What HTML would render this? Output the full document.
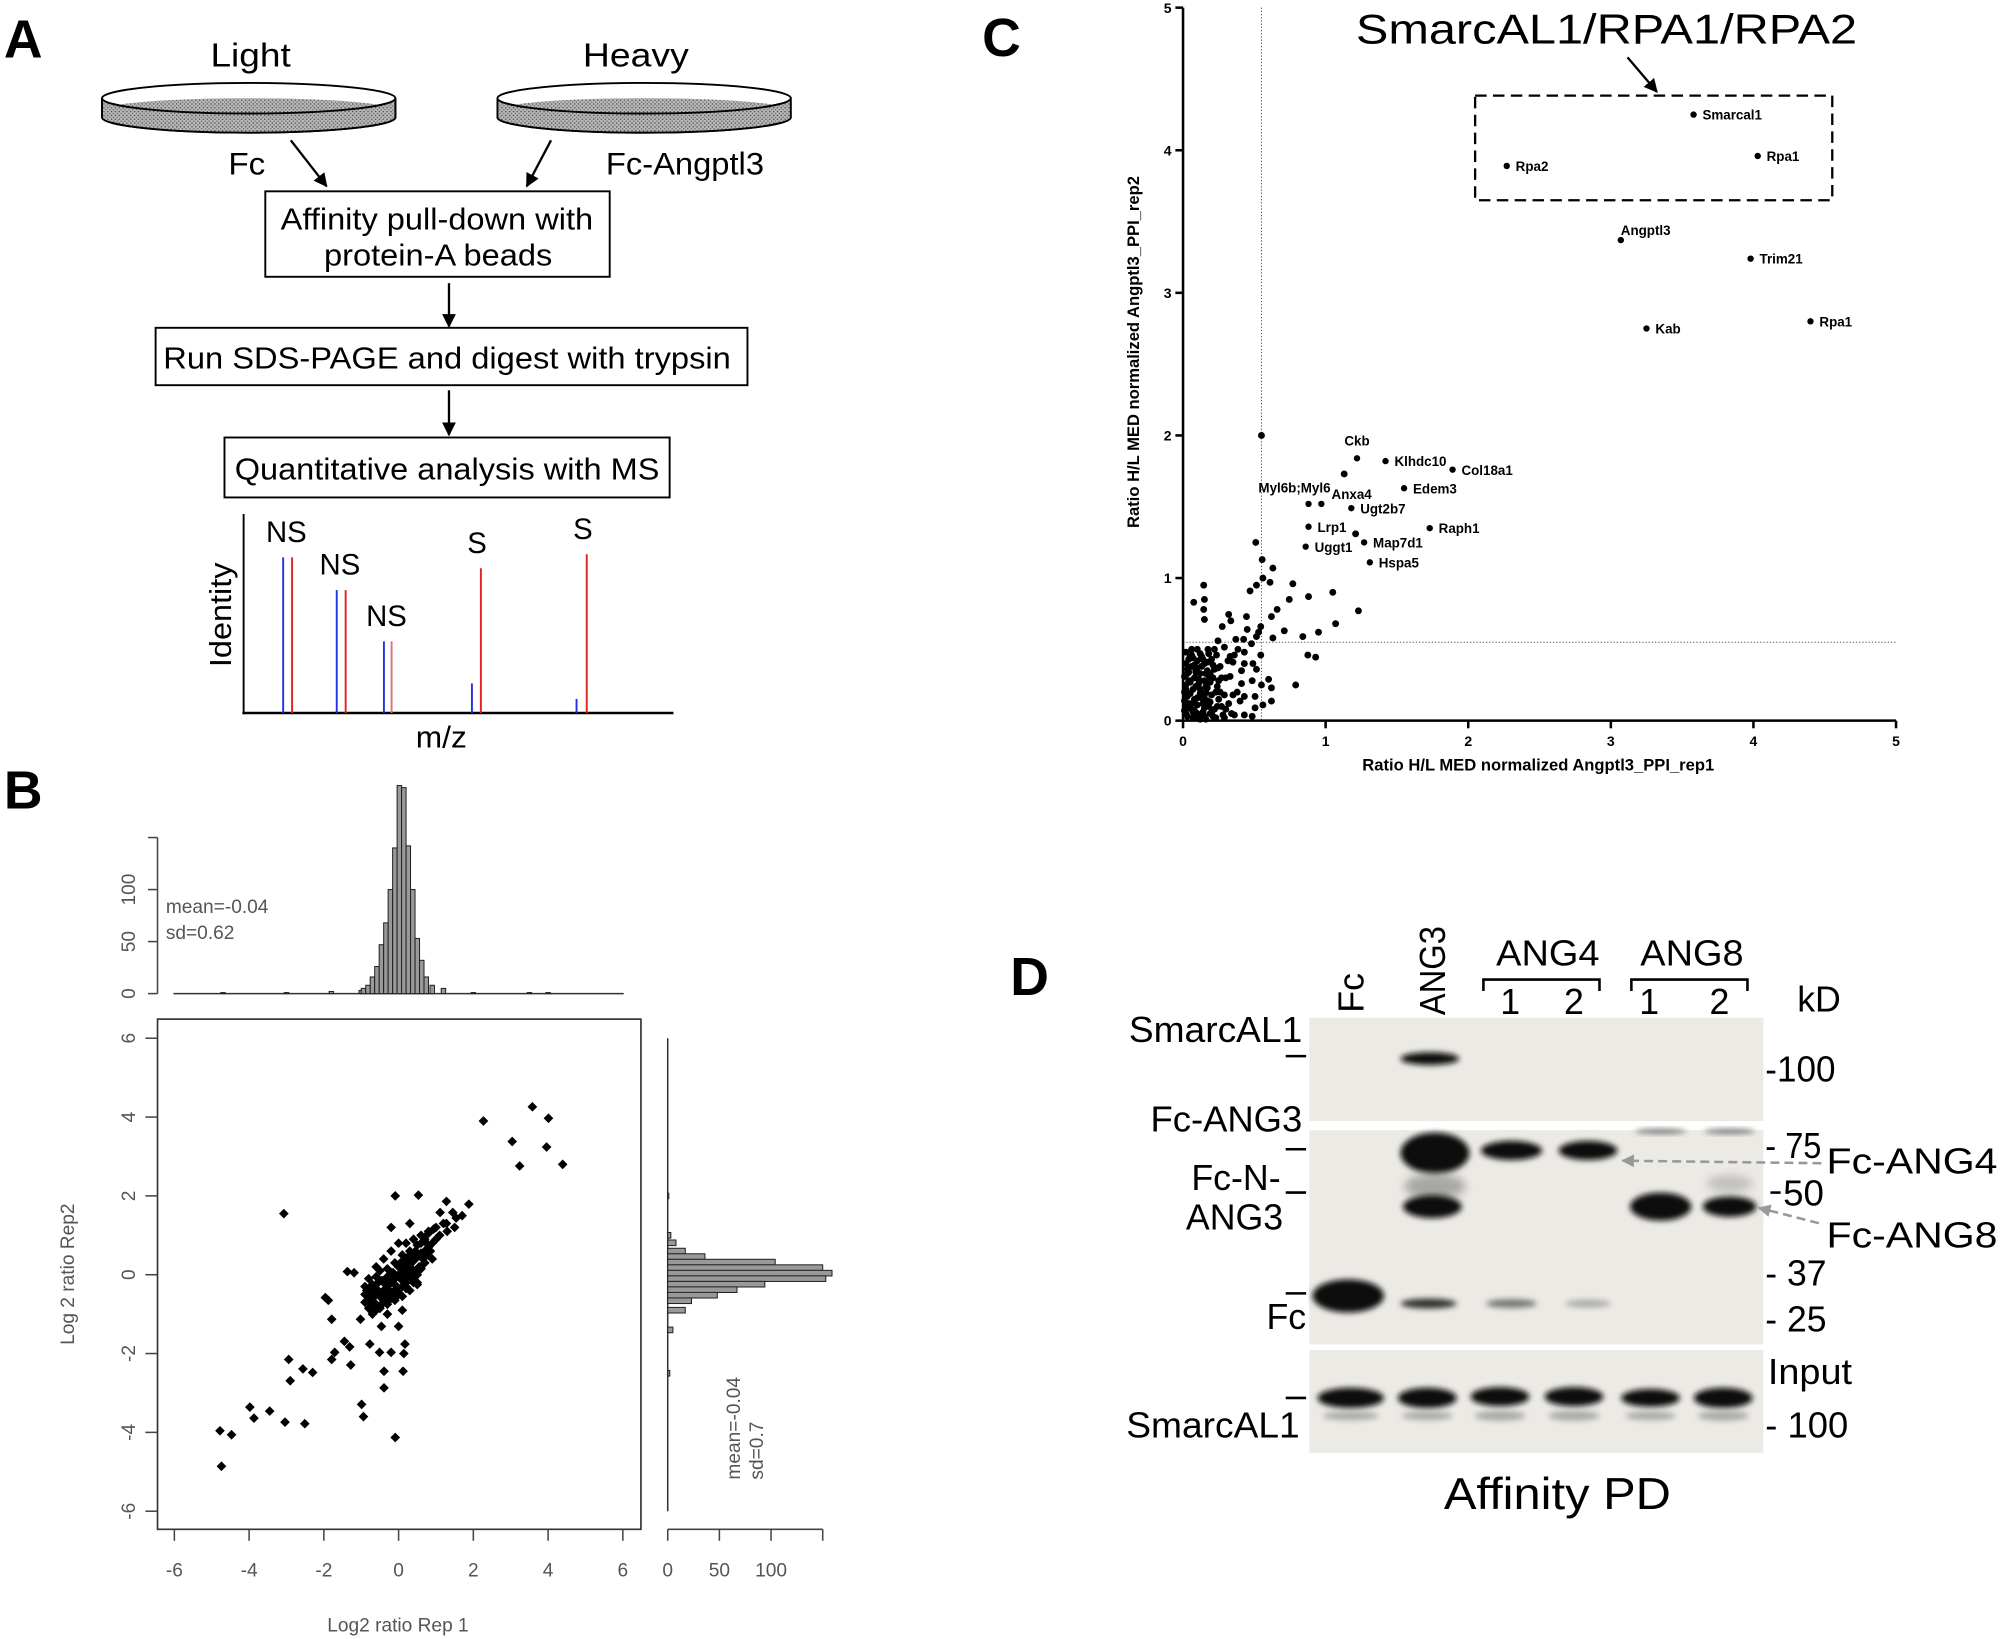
<!DOCTYPE html>
<html><head><meta charset="utf-8"><style>
html,body{margin:0;padding:0;background:#fff;}
svg{display:block;}
text{font-family:"Liberation Sans",Arial,sans-serif;}
</style></head><body>
<svg id="fig" xmlns="http://www.w3.org/2000/svg" width="2000" height="1639" viewBox="0 0 1568 1285" preserveAspectRatio="none">
<defs>
<filter id="blur" x="-20%" y="-60%" width="140%" height="220%"><feGaussianBlur stdDeviation="2.2"/></filter>
<filter id="blur2" x="-20%" y="-60%" width="140%" height="220%"><feGaussianBlur stdDeviation="3.5"/></filter>
<pattern id="stip" width="3" height="3" patternUnits="userSpaceOnUse"><rect width="3" height="3" fill="#b8b8b8"/><rect width="1" height="1" fill="#444"/><rect x="1.5" y="1.5" width="1" height="1" fill="#666"/></pattern>
<marker id="ah" viewBox="0 0 10 10" refX="9" refY="5" markerWidth="6" markerHeight="6" orient="auto"><path d="M0,0 L10,5 L0,10 z" fill="#000"/></marker>
<marker id="ahg" viewBox="0 0 10 10" refX="9" refY="5" markerWidth="5" markerHeight="5" orient="auto"><path d="M0,0 L10,5 L0,10 z" fill="#999"/></marker>
</defs>

<!-- PANEL A -->
<g>
<text x="3" y="45" font-size="42" font-weight="bold">A</text>
<text x="165" y="52" font-size="26" textLength="63" lengthAdjust="spacingAndGlyphs">Light</text>
<text x="457" y="52" font-size="26" textLength="83" lengthAdjust="spacingAndGlyphs">Heavy</text>
<g>
<ellipse cx="195" cy="92" rx="115" ry="12" fill="url(#stip)" stroke="#000" stroke-width="1.5"/>
<rect x="80" y="77" width="230" height="15" fill="#fff"/>
<line x1="80" y1="77" x2="80" y2="92" stroke="#000" stroke-width="1.5"/><line x1="310" y1="77" x2="310" y2="92" stroke="#000" stroke-width="1.5"/>
<ellipse cx="195" cy="77" rx="115" ry="12" fill="#fff" stroke="#000" stroke-width="1.5"/>
<path d="M82,86 A113,10 0 0 0 308,86 A113,9 0 0 0 82,86 Z" fill="url(#stip)"/>
<path d="M80,77 V92 A115,12 0 0 0 310,92 V77 A115,12 0 0 1 80,77 Z" fill="url(#stip)" stroke="#000" stroke-width="1.5"/>
</g>
<g>
<ellipse cx="505" cy="92" rx="115" ry="12" fill="url(#stip)" stroke="#000" stroke-width="1.5"/>
<rect x="390" y="77" width="230" height="15" fill="#fff"/>
<ellipse cx="505" cy="77" rx="115" ry="12" fill="#fff" stroke="#000" stroke-width="1.5"/>
<path d="M392,86 A113,10 0 0 0 618,86 A113,9 0 0 0 392,86 Z" fill="url(#stip)"/>
<path d="M390,77 V92 A115,12 0 0 0 620,92 V77 A115,12 0 0 1 390,77 Z" fill="url(#stip)" stroke="#000" stroke-width="1.5"/>
</g>
<text x="179" y="137" font-size="25" textLength="29" lengthAdjust="spacingAndGlyphs">Fc</text>
<text x="475" y="137" font-size="25" textLength="124" lengthAdjust="spacingAndGlyphs">Fc-Angptl3</text>
<line x1="228" y1="110" x2="256" y2="146" stroke="#000" stroke-width="1.8" marker-end="url(#ah)"/>
<line x1="432" y1="110" x2="413" y2="146" stroke="#000" stroke-width="1.8" marker-end="url(#ah)"/>
<rect x="208" y="150" width="270" height="67" fill="none" stroke="#000" stroke-width="1.5"/>
<text x="220" y="180" font-size="24" textLength="245" lengthAdjust="spacingAndGlyphs">Affinity pull-down with</text>
<text x="254" y="208" font-size="24" textLength="179" lengthAdjust="spacingAndGlyphs">protein-A beads</text>
<line x1="352" y1="222" x2="352" y2="256" stroke="#000" stroke-width="1.8" marker-end="url(#ah)"/>
<rect x="122" y="257" width="464" height="45" fill="none" stroke="#000" stroke-width="1.5"/>
<text x="128" y="289" font-size="24" textLength="445" lengthAdjust="spacingAndGlyphs">Run SDS-PAGE and digest with trypsin</text>
<line x1="352" y1="306" x2="352" y2="341" stroke="#000" stroke-width="1.8" marker-end="url(#ah)"/>
<rect x="176" y="343" width="349" height="47" fill="none" stroke="#000" stroke-width="1.5"/>
<text x="184" y="376" font-size="24" textLength="333" lengthAdjust="spacingAndGlyphs">Quantitative analysis with MS</text>
<g id="spec">
<line x1="191" y1="403" x2="191" y2="560" stroke="#000" stroke-width="1.5"/>
<line x1="190" y1="559" x2="528" y2="559" stroke="#000" stroke-width="2"/>
<text transform="translate(181,523) rotate(-90)" font-size="24" textLength="82" lengthAdjust="spacingAndGlyphs">Identity</text>
<text x="326" y="586" font-size="24" textLength="40" lengthAdjust="spacingAndGlyphs">m/z</text>
</g>
</g>

<!-- PANEL B -->
<g>
<text x="3" y="634" font-size="42" font-weight="bold">B</text>
<g id="bplot"></g>
</g>

<!-- PANEL C -->
<g>
<text x="770" y="44" font-size="42" font-weight="bold">C</text>
<text x="1063" y="34" font-size="33" textLength="393" lengthAdjust="spacingAndGlyphs">SmarcAL1/RPA1/RPA2</text>
<line x1="1276" y1="45" x2="1299" y2="72" stroke="#000" stroke-width="1.8" marker-end="url(#ah)"/>
<rect x="1156.5" y="75" width="280" height="82" fill="none" stroke="#000" stroke-width="1.8" stroke-dasharray="9,5"/>
<g id="cplot"></g>
</g>

<!-- PANEL D -->
<g>
<text x="792" y="780" font-size="42" font-weight="bold">D</text>
<text transform="translate(1069,794) rotate(-90)" font-size="28">Fc</text>
<text transform="translate(1133,796) rotate(-90)" font-size="28" textLength="70" lengthAdjust="spacingAndGlyphs">ANG3</text>
<text x="1173" y="757" font-size="28" textLength="81" lengthAdjust="spacingAndGlyphs">ANG4</text>
<text x="1286" y="757" font-size="28" textLength="81" lengthAdjust="spacingAndGlyphs">ANG8</text>
<path d="M1163,777 V768 H1254 V777" fill="none" stroke="#000" stroke-width="2"/>
<path d="M1279,777 V768 H1370 V777" fill="none" stroke="#000" stroke-width="2"/>
<text x="1184" y="795" font-size="28" text-anchor="middle">1</text>
<text x="1234" y="795" font-size="28" text-anchor="middle">2</text>
<text x="1293" y="795" font-size="28" text-anchor="middle">1</text>
<text x="1348" y="795" font-size="28" text-anchor="middle">2</text>
<text x="1409" y="793" font-size="28">kD</text>
<rect x="1026.5" y="798" width="356" height="81" fill="#eceae5"/>
<rect x="1026.5" y="886" width="356" height="168" fill="#eceae5"/>
<rect x="1026.5" y="1058.5" width="356" height="80.5" fill="#eceae5"/>
<g>
<ellipse cx="1121" cy="830" rx="23" ry="5" fill="#111" filter="url(#blur)"/>
<ellipse cx="1125" cy="904" rx="27" ry="16" fill="#0a0a0a" filter="url(#blur)"/>
<ellipse cx="1125" cy="930" rx="24" ry="10" fill="#666" opacity="0.5" filter="url(#blur2)"/>
<ellipse cx="1123" cy="946" rx="23" ry="9" fill="#111" filter="url(#blur)"/>
<ellipse cx="1120" cy="1022" rx="22" ry="4" fill="#333" filter="url(#blur)"/>
<ellipse cx="1057" cy="1016" rx="28" ry="13" fill="#0a0a0a" filter="url(#blur)"/>
<ellipse cx="1185" cy="902" rx="24" ry="7.5" fill="#111" filter="url(#blur)"/>
<ellipse cx="1245" cy="902" rx="23" ry="7.5" fill="#111" filter="url(#blur)"/>
<ellipse cx="1185" cy="1022" rx="20" ry="3.5" fill="#777" filter="url(#blur)"/>
<ellipse cx="1245" cy="1022" rx="18" ry="3" fill="#aaa" filter="url(#blur)"/>
<ellipse cx="1302" cy="946" rx="24" ry="11" fill="#0a0a0a" filter="url(#blur)"/>
<ellipse cx="1356" cy="946" rx="21" ry="8" fill="#111" filter="url(#blur)"/>
<ellipse cx="1356" cy="928" rx="18" ry="7" fill="#999" opacity="0.5" filter="url(#blur2)"/>
<ellipse cx="1302" cy="887" rx="20" ry="2" fill="#777" filter="url(#blur)"/>
<ellipse cx="1356" cy="887" rx="20" ry="2" fill="#777" filter="url(#blur)"/>
<ellipse cx="1059" cy="1096" rx="26" ry="8" fill="#111" filter="url(#blur)"/>
<ellipse cx="1119" cy="1096" rx="23" ry="8" fill="#111" filter="url(#blur)"/>
<ellipse cx="1176" cy="1095" rx="23" ry="7.5" fill="#111" filter="url(#blur)"/>
<ellipse cx="1234" cy="1095" rx="23" ry="7.5" fill="#111" filter="url(#blur)"/>
<ellipse cx="1294" cy="1096" rx="23" ry="7" fill="#111" filter="url(#blur)"/>
<ellipse cx="1351" cy="1096" rx="23" ry="8" fill="#111" filter="url(#blur)"/>
<g fill="#aaa" filter="url(#blur)"><ellipse cx="1059" cy="1110" rx="22" ry="3.5"/><ellipse cx="1119" cy="1110" rx="20" ry="3.5"/><ellipse cx="1176" cy="1110" rx="20" ry="4"/><ellipse cx="1234" cy="1110" rx="20" ry="4"/><ellipse cx="1294" cy="1110" rx="20" ry="3.5"/><ellipse cx="1351" cy="1110" rx="20" ry="4"/></g>
</g>
<g font-size="28" text-anchor="end">
<text x="1021" y="817" textLength="136" lengthAdjust="spacingAndGlyphs">SmarcAL1</text>
<text x="1021" y="887" textLength="119" lengthAdjust="spacingAndGlyphs">Fc-ANG3</text>
<text x="1004" y="933">Fc-N-</text>
<text x="1006" y="964">ANG3</text>
<text x="1024" y="1042">Fc</text>
<text x="1019" y="1127" textLength="136" lengthAdjust="spacingAndGlyphs">SmarcAL1</text>
</g>
<g stroke="#000" stroke-width="2">
<line x1="1008" y1="828" x2="1024" y2="828"/><line x1="1008" y1="901" x2="1024" y2="901"/><line x1="1008" y1="935" x2="1024" y2="935"/><line x1="1008" y1="1014" x2="1024" y2="1014"/><line x1="1008" y1="1096" x2="1024" y2="1096"/>
</g>
<g font-size="28">
<text x="1384" y="848" textLength="55" lengthAdjust="spacingAndGlyphs">-100</text>
<text x="1384" y="908" textLength="44" lengthAdjust="spacingAndGlyphs">- 75</text>
<text x="1398" y="945" textLength="32" lengthAdjust="spacingAndGlyphs">50</text>
<text x="1384" y="1008" textLength="48" lengthAdjust="spacingAndGlyphs">- 37</text>
<text x="1384" y="1044" textLength="48" lengthAdjust="spacingAndGlyphs">- 25</text>
<text x="1386" y="1085" textLength="66" lengthAdjust="spacingAndGlyphs">Input</text>
<text x="1384" y="1127" textLength="65" lengthAdjust="spacingAndGlyphs">- 100</text>
<text x="1432" y="920" textLength="134" lengthAdjust="spacingAndGlyphs">Fc-ANG4</text>
<text x="1432" y="978" textLength="134" lengthAdjust="spacingAndGlyphs">Fc-ANG8</text>
</g>
<line x1="1388" y1="935" x2="1396" y2="935" stroke="#000" stroke-width="2"/>
<line x1="1428" y1="912" x2="1272" y2="910" stroke="#999" stroke-width="2" stroke-dasharray="7,4" marker-end="url(#ahg)"/>
<line x1="1426" y1="959" x2="1379" y2="947" stroke="#999" stroke-width="2" stroke-dasharray="7,4" marker-end="url(#ahg)"/>
<text x="1132" y="1183" font-size="35" textLength="178" lengthAdjust="spacingAndGlyphs">Affinity PD</text>
</g>
</svg>
<script>
// ---------- Panel A spectrum data ----------
const specMz = [222, 229, 264, 271, 301, 307, 370, 377, 452, 460];
const specIntensity = [100, 100, 79, 79, 46, 46, 19, 93, 9, 102];
const specColor = ['#2233dd','#dd2222','#2233dd','#dd2222','#2233dd','#e07070','#2233dd','#dd2222','#2233dd','#dd2222'];
const specPeakLabels = ['NS','NS','NS','S','S'];
const specPeakLabelIdx = [0, 2, 4, 7, 9];

// ---------- Panel B data ----------
const bHistBins = [-4.7,-3.0,-1.8,-1.0,-0.94,-0.82,-0.70,-0.58,-0.46,-0.34,-0.22,-0.10,0.02,0.14,0.26,0.38,0.50,0.62,0.74,0.9,1.2,2.0,3.5,4.0];
const bHistCounts = [1,1,2,3,5,8,16,26,47,68,100,140,200,198,142,100,53,32,16,8,5,1,1,1];
const bRightBins = [2.0,1.0,0.81,0.6,0.46,0.32,0.18,0.04,-0.10,-0.24,-0.38,-0.52,-0.66,-0.9,-1.4,-2.5];
const bRightCounts = [1,3,8,17,36,104,150,159,153,94,67,48,23,17,5,2];
const bX = [2.27,3.58,4.01,3.04,3.96,3.24,4.39,-3.07,-0.09,0.53,1.88,1.28,1.11,1.54,1.28,0.94,1.45,-1.37,-1.19,-1.96,-1.88,-1.79,-1.02,-1.45,-1.31,-1.71,-1.79,-1.28,-0.77,-0.51,-0.20,0.17,0.14,0.12,-0.39,-0.39,-0.46,0.0,-0.99,-0.94,-0.09,-2.94,-2.9,-2.56,-2.3,-3.98,-3.87,-3.45,-3.04,-2.51,-4.78,-4.47,-4.74,
 -0.8,-0.7,-0.6,-0.5,-0.4,-0.3,-0.2,-0.1,0.0,0.1,0.2,0.3,0.4,0.5,0.6,0.7,0.8,0.9,1.0,1.1,
 -0.85,-0.75,-0.65,-0.55,-0.45,-0.35,-0.25,-0.15,-0.05,0.05,0.15,0.25,0.35,0.45,0.55,0.65,0.75,0.85,
 -0.7,-0.6,-0.5,-0.4,-0.3,-0.2,-0.1,0.0,0.1,0.2,0.3,0.4,0.5,0.6,
 -0.6,-0.4,-0.2,0.0,0.2,0.4,0.6,0.8,1.0,1.2,-0.3,0.1,0.5,0.9,1.3,1.5,1.7,-0.2,0.3,0.7,
 -0.9,-0.8,-0.7,-0.6,-0.5,-0.4,-0.3,-0.2,-0.1,0.0,0.1,0.2,0.3,0.4,0.5,0.6,0.7,0.8,
 -0.9,-0.8,-0.7,-0.6,-0.5,-0.4,-0.3,-0.2,-0.1,0.0,0.1,0.2,0.3,0.4,0.5,0.6,0.7,
 -0.8,-0.7,-0.6,-0.5,-0.4,-0.3,-0.2,-0.1,0.0,0.1,0.2,0.3,0.4,0.5,
 -0.9,-0.75,-0.6,-0.45,-0.3,-0.15,0.0,0.15,0.3,-0.5,-0.35,-0.2,-0.05,0.1,0.25,0.4];
const bY = [3.9,4.26,3.97,3.38,3.24,2.76,2.8,1.55,2.0,2.02,1.79,1.86,1.58,1.44,1.3,1.16,1.58,0.08,0.05,-0.58,-0.65,-1.13,-1.13,-1.69,-1.83,-1.97,-2.15,-2.29,-1.76,-1.97,-1.97,-1.76,-2.0,-2.45,-2.45,-2.87,-1.31,-1.31,-3.29,-3.6,-4.13,-2.15,-2.69,-2.39,-2.48,-3.36,-3.64,-3.46,-3.74,-3.78,-3.96,-4.06,-4.86,
 -0.7,-0.6,-0.5,-0.45,-0.4,-0.3,-0.2,-0.1,0.0,0.1,0.2,0.25,0.35,0.45,0.55,0.6,0.7,0.8,0.9,1.0,
 -0.4,-0.3,-0.8,-0.2,-0.6,-0.1,-0.5,0.05,-0.3,0.3,-0.1,0.45,0.1,0.6,0.2,0.4,0.5,0.6,
 -1.0,-0.9,-0.8,-0.7,-0.6,-0.5,-0.4,-0.5,-0.3,-0.2,-0.05,0.1,0.0,0.2,
 0.2,0.4,0.6,0.8,0.8,0.9,1.0,1.1,1.2,1.3,-1.0,-0.9,-0.2,0.4,1.1,1.2,1.5,1.2,1.3,0.9,
 -0.3,-0.1,-0.25,-0.05,0.1,-0.2,0.15,0.05,0.3,0.25,0.5,0.35,0.6,0.55,0.75,0.8,0.85,1.05,
 -0.7,-0.85,-0.45,-0.75,-0.15,-0.6,-0.35,-0.55,-0.25,-0.45,-0.1,-0.3,0.05,-0.1,0.1,0.15,0.3,
 -0.55,-0.95,-0.25,-0.85,-0.7,-0.75,-0.6,-0.65,-0.5,-0.55,-0.35,-0.4,-0.2,-0.25,
 -0.5,-0.4,-0.35,-0.15,-0.05,0.05,0.2,0.35,0.45,-0.85,-0.6,-0.45,-0.35,-0.15,0.0,0.1];
const bXTicks = [-6,-4,-2,0,2,4,6];
const bYTicks = [-6,-4,-2,0,2,4,6];
const bHistTicks = [0,50,100];

// ---------- Panel C data ----------
const cLabelNames = ['Smarcal1','Rpa1','Rpa2','Angptl3','Trim21','Kab','Rpa1','Ckb','Klhdc10','Col18a1','Edem3','Myl6b;Myl6','Anxa4','Ugt2b7','Lrp1','Raph1','Map7d1','Uggt1','Hspa5'];
const cLabelX = [3.58,4.03,2.27,3.07,3.98,3.25,4.40,1.22,1.42,1.89,1.55,0.88,0.97,1.18,0.88,1.73,1.27,0.86,1.31];
const cLabelY = [4.25,3.96,3.89,3.37,3.24,2.75,2.80,1.84,1.82,1.76,1.63,1.52,1.52,1.49,1.36,1.35,1.25,1.22,1.11];
const cLabelPlace = ['right','right','right','up','right','right','right','above','right','right','right','aboveleft','upright','right','right','right','right','right','right'];
const cX = [1.13,1.21,0.55,0.51,0.555,0.63,0.145,0.56,0.61,0.515,0.47,0.77,0.075,0.15,0.145,0.15,0.745,0.88,1.05,1.23,0.66,0.62,1.07,0.71,0.95,0.84,0.63,0.32,0.335,0.445,0.275,0.45,0.545,0.53,0.515,0.48,0.37,0.425,0.245,0.175,0.29,0.385,0.235,0.315,0.36,0.43,0.545,0.875,0.93,0.43,0.49,0.515,0.41,0.60,0.485,0.41,0.55,0.79,0.62,0.33,0.245,0.29,0.35,0.43,0.505,0.62,0.56,0.505,0.40,0.43,0.485,0.36,0.29,
 0.02,0.05,0.1,0.02,0.06,0.1,0.15,0.2,0.03,0.08,0.12,0.17,0.22,0.27,0.02,0.07,0.11,0.15,0.19,0.24,0.03,0.08,0.12,0.16,0.2,0.25,0.02,0.06,0.1,0.14,0.18,0.22,0.27,0.03,0.07,0.11,0.15,0.19,0.23,0.01,0.04,0.09,0.13,0.18,0.05,0.1,0.14,0.17,0.21,0.26,0.3,0.32,0.34,0.28,0.01,0.06,0.22,0.12,0.04,0.16,
 0.01,0.03,0.05,0.07,0.09,0.11,0.13,0.15,0.17,0.19,0.21,0.23,0.01,0.03,0.05,0.07,0.09,0.11,0.13,0.15,0.17,0.19,0.21,0.25,0.02,0.04,0.06,0.08,0.1,0.12,0.14,0.16,0.18,0.2,0.02,0.04,0.06,0.08,0.1,0.12,0.14,0.16,0.3,0.35,0.38,0.26,0.24,0.33];
const cY = [1.73,1.31,2.0,1.25,1.13,1.07,0.95,1.0,0.97,0.95,0.91,0.96,0.83,0.85,0.78,0.71,0.85,0.87,0.9,0.77,0.78,0.73,0.68,0.63,0.62,0.59,0.58,0.745,0.70,0.73,0.66,0.64,0.66,0.62,0.59,0.54,0.57,0.57,0.56,0.50,0.515,0.50,0.46,0.42,0.46,0.48,0.46,0.46,0.445,0.40,0.40,0.36,0.35,0.29,0.28,0.26,0.25,0.25,0.23,0.31,0.37,0.18,0.18,0.17,0.17,0.137,0.11,0.09,0.137,0.04,0.03,0.04,0.02,
 0.48,0.45,0.5,0.4,0.38,0.42,0.4,0.43,0.33,0.3,0.33,0.35,0.36,0.3,0.25,0.22,0.26,0.28,0.27,0.24,0.17,0.15,0.19,0.2,0.18,0.15,0.1,0.08,0.11,0.12,0.1,0.08,0.1,0.03,0.02,0.04,0.03,0.05,0.02,0.2,0.12,0.35,0.45,0.47,0.28,0.16,0.06,0.14,0.3,0.2,0.08,0.12,0.05,0.04,0.07,0.5,0.5,0.01,0.43,0.24,
 0.14,0.09,0.19,0.06,0.24,0.02,0.16,0.09,0.23,0.13,0.03,0.2,0.31,0.36,0.27,0.44,0.34,0.29,0.38,0.18,0.41,0.33,0.39,0.28,0.05,0.34,0.12,0.39,0.05,0.22,0.43,0.01,0.29,0.06,0.22,0.28,0.46,0.07,0.37,0.47,0.15,0.33,0.3,0.41,0.2,0.38,0.1,0.45];
const cTicks = [0,1,2,3,4,5];
const cThreshold = 0.55;

const NS = 'http://www.w3.org/2000/svg';
function mk(tag, attrs, parent) {
  const e = document.createElementNS(NS, tag);
  for (const k in attrs) e.setAttribute(k, attrs[k]);
  parent.appendChild(e);
  return e;
}

// ----- A spectrum -----
const spec = document.getElementById('spec');
const specY = v => 559 - v * 1.22;
specMz.forEach((m, i) => {
  const l = mk('line', {x1: m, x2: m, y1: 559, y2: specY(specIntensity[i]), stroke: specColor[i], 'stroke-width': 1.5}, spec);
  
  
});
specPeakLabels.forEach((t, k) => {
  const i = specPeakLabelIdx[k];
  const cx = (specMz[i] + specMz[i + (k < 3 ? 1 : 0)]) / 2 + (k < 3 ? -1 : -3);
  const tx = mk('text', {x: cx, y: specY(Math.max(specIntensity[i], specIntensity[i+1] || 0)) - 12, 'font-size': 23, 'text-anchor': 'middle'}, spec);
  tx.textContent = t;
  
  
});

// ----- B -----
const bp = document.getElementById('bplot');
const bxs = v => 312.5 + v * 29.3;
const bys = v => 999.4 - v * 30.9;
const hys = c => 779 - c * 0.8157;
const hxs = c => 523.5 + c * 0.81;
const gray = '#444';
mk('line', {x1: 123.5, x2: 123.5, y1: hys(0), y2: hys(150), stroke: gray, 'stroke-width': 1.2}, bp);
[0,50,100,150].forEach(t => mk('line', {x1: 116, x2: 123.5, y1: hys(t), y2: hys(t), stroke: gray, 'stroke-width': 1.2}, bp));
bHistTicks.forEach(t => {
  const tx = mk('text', {transform: `translate(106,${hys(t)}) rotate(-90)`, 'font-size': 15, fill: '#555', 'text-anchor': 'middle'}, bp);
  tx.textContent = t;
  
  
});
mk('line', {x1: 136, x2: 489, y1: 779, y2: 779, stroke: '#333', 'stroke-width': 1.2}, bp);
bHistBins.forEach((b, i) => {
  const r = mk('rect', {x: bxs(b) - 1.75, y: hys(bHistCounts[i]), width: 3.5, height: bHistCounts[i] * 0.8157, fill: '#999', stroke: '#222', 'stroke-width': 0.8}, bp);
  
  
});
let t1 = mk('text', {x: 130, y: 716, 'font-size': 15, fill: '#555'}, bp); t1.textContent = 'mean=-0.04';
 
let t2 = mk('text', {x: 130, y: 736, 'font-size': 15, fill: '#555'}, bp); t2.textContent = 'sd=0.62';
 
mk('rect', {x: 123.5, y: 799, width: 379, height: 400, fill: 'none', stroke: '#333', 'stroke-width': 1.3}, bp);
bXTicks.forEach(t => {
  mk('line', {x1: bxs(t), x2: bxs(t), y1: 1199, y2: 1208, stroke: gray, 'stroke-width': 1.2}, bp);
  const tx = mk('text', {x: bxs(t), y: 1236, 'font-size': 15, fill: '#555', 'text-anchor': 'middle'}, bp);
  tx.textContent = t < 0 ? '-' + Math.abs(t) : t;
  
  
});
bYTicks.forEach(t => {
  mk('line', {x1: 114, x2: 123.5, y1: bys(t), y2: bys(t), stroke: gray, 'stroke-width': 1.2}, bp);
  const tx = mk('text', {transform: `translate(106,${bys(t)}) rotate(-90)`, 'font-size': 15, fill: '#555', 'text-anchor': 'middle'}, bp);
  tx.textContent = t < 0 ? '-' + Math.abs(t) : t;
  
  
});
let bxt = mk('text', {x: 312, y: 1279, 'font-size': 15, fill: '#555', 'text-anchor': 'middle'}, bp); bxt.textContent = 'Log2 ratio Rep 1';
 
let byt = mk('text', {transform: 'translate(58,999) rotate(-90)', 'font-size': 15, fill: '#555', 'text-anchor': 'middle'}, bp); byt.textContent = 'Log 2 ratio Rep2';
 
bX.forEach((x, i) => {
  const cx = bxs(x), cy = bys(bY[i]);
  const p = mk('path', {d: `M${cx},${cy-3.8} L${cx+3.8},${cy} L${cx},${cy+3.8} L${cx-3.8},${cy} Z`, fill: '#000'}, bp);
  
  
});
mk('line', {x1: 523.5, x2: 523.5, y1: bys(6), y2: bys(-6), stroke: '#333', 'stroke-width': 1.2}, bp);
bRightBins.forEach((b, i) => {
  const r = mk('rect', {x: 523.5, y: bys(b) - 2.2, width: bRightCounts[i] * 0.81, height: 4.4, fill: '#999', stroke: '#222', 'stroke-width': 0.8}, bp);
  
  
});
mk('line', {x1: 523.5, x2: hxs(150), y1: 1199, y2: 1199, stroke: gray, 'stroke-width': 1.2}, bp);
[0,50,100,150].forEach(t => mk('line', {x1: hxs(t), x2: hxs(t), y1: 1199, y2: 1208, stroke: gray, 'stroke-width': 1.2}, bp));
bHistTicks.forEach(t => {
  const tx = mk('text', {x: hxs(t), y: 1236, 'font-size': 15, fill: '#555', 'text-anchor': 'middle'}, bp);
  tx.textContent = t;
  
  
});
let t3 = mk('text', {transform: 'translate(580,1160) rotate(-90)', 'font-size': 15, fill: '#555'}, bp); t3.textContent = 'mean=-0.04';
 
let t4 = mk('text', {transform: 'translate(598,1160) rotate(-90)', 'font-size': 15, fill: '#555'}, bp); t4.textContent = 'sd=0.7';
 

// ----- C -----
const cp = document.getElementById('cplot');
const cxs = v => 927.5 + v * 111.8;
const cys = v => 565 - v * 111.8;
mk('line', {x1: cxs(cThreshold), x2: cxs(cThreshold), y1: cys(5), y2: cys(0), stroke: '#555', 'stroke-width': 0.8, 'stroke-dasharray': '1,1.5'}, cp);
mk('line', {x1: cxs(0), x2: cxs(5), y1: cys(cThreshold), y2: cys(cThreshold), stroke: '#555', 'stroke-width': 0.8, 'stroke-dasharray': '1,1.5'}, cp);
mk('line', {x1: cxs(0), x2: cxs(0), y1: cys(5), y2: cys(0), stroke: '#000', 'stroke-width': 2}, cp);
mk('line', {x1: cxs(0), x2: cxs(5), y1: cys(0), y2: cys(0), stroke: '#000', 'stroke-width': 2}, cp);
cTicks.forEach(t => {
  mk('line', {x1: cxs(t), x2: cxs(t), y1: cys(0), y2: cys(0) + 6, stroke: '#000', 'stroke-width': 2}, cp);
  mk('line', {x1: cxs(0) - 6, x2: cxs(0), y1: cys(t), y2: cys(t), stroke: '#000', 'stroke-width': 2}, cp);
  const tx = mk('text', {x: cxs(t), y: cys(0) + 20, 'font-size': 11, 'font-weight': 'bold', 'text-anchor': 'middle'}, cp);
  tx.textContent = t;
  
  
  const ty = mk('text', {x: cxs(0) - 9, y: cys(t) + 4, 'font-size': 11, 'font-weight': 'bold', 'text-anchor': 'end'}, cp);
  ty.textContent = t;
  
  
});
let cxt = mk('text', {x: 1206, y: 604, 'font-size': 13, 'font-weight': 'bold', 'text-anchor': 'middle'}, cp); cxt.textContent = 'Ratio H/L MED normalized Angptl3_PPI_rep1';
 
let cyt = mk('text', {transform: 'translate(893,276) rotate(-90)', 'font-size': 13, 'font-weight': 'bold', 'text-anchor': 'middle'}, cp); cyt.textContent = 'Ratio H/L MED normalized Angptl3_PPI_rep2';
 
cX.forEach((x, i) => {
  const c = mk('circle', {cx: cxs(x), cy: cys(cY[i]), r: 2.7, fill: '#000'}, cp);
  
  
});
cLabelNames.forEach((n, i) => {
  const px = cxs(cLabelX[i]), py = cys(cLabelY[i]);
  const c = mk('circle', {cx: px, cy: py, r: 2.5, fill: '#000'}, cp);
  
  
  let tx, ty, anc = 'start';
  const pl = cLabelPlace[i];
  if (pl === 'right') { tx = px + 7; ty = py + 4; }
  else if (pl === 'up') { tx = px; ty = py - 4; }
  else if (pl === 'above') { tx = px; ty = py - 10; anc = 'middle'; }
  else if (pl === 'aboveleft') { tx = px - 11; ty = py - 9; anc = 'middle'; }
  else { tx = px + 8; ty = py - 4; }
  const t = mk('text', {x: tx, y: ty, 'font-size': 10.5, 'font-weight': 'bold', 'text-anchor': anc}, cp);
  t.textContent = n;
  
  
});
</script>
</body></html>
